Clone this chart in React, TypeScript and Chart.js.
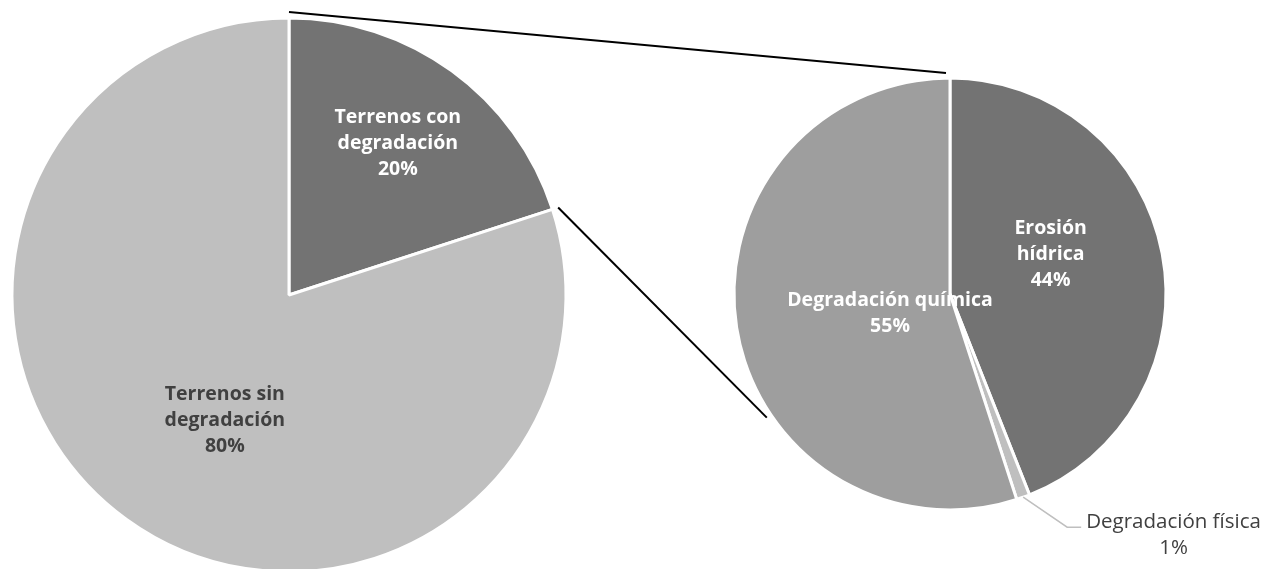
import React, { useEffect, useRef } from "react";
import { Chart, registerables } from "chart.js";

Chart.register(...registerables);

const mainLabels = ["Terrenos con degradación", "Terrenos sin degradación"];
const mainValues = [20, 80];
const mainColors = ["#737373", "#bfbfbf"];

const subLabels = ["Erosión hídrica", "Degradación física", "Degradación química"];
const subValues = [44, 1, 55];
const subColors = ["#737373", "#bfbfbf", "#9e9e9e"];

const FONT = "'Open Sans', 'Noto Sans', sans-serif";

function wrapLabel(label: string, maxWords: number): string[] {
  const words = label.split(" ");
  if (words.length <= 1) return [label];
  if (maxWords >= words.length) return [label];
  return [words.slice(0, maxWords).join(" "), words.slice(maxWords).join(" ")];
}

const labelPlugin = {
  id: "pieLabels",
  afterDatasetsDraw(chart: any, _args: any, opts: any) {
    const ctx = chart.ctx;
    const meta = chart.getDatasetMeta(0);
    const values = chart.data.datasets[0].data as number[];
    const total = values.reduce((a: number, b: number) => a + b, 0);
    const styles = opts.styles as any[];
    meta.data.forEach((arc: any, i: number) => {
      const st = styles[i];
      const pct = Math.round((values[i] / total) * 100) + "%";
      const label = chart.data.labels[i] as string;
      const mid = (arc.startAngle + arc.endAngle) / 2;
      const R = arc.outerRadius;
      ctx.save();
      if (st.outside) {
        const sx = arc.x + R * Math.cos(mid);
        const sy = arc.y + R * Math.sin(mid);
        const ex = sx + 44;
        const ey = sy + 30;
        const hx = ex + 14;
        ctx.strokeStyle = "#bfbfbf";
        ctx.lineWidth = 1.5;
        ctx.beginPath();
        ctx.moveTo(sx, sy);
        ctx.lineTo(ex, ey);
        ctx.lineTo(hx, ey);
        ctx.stroke();
        ctx.font = `20.5px ${FONT}`;
        ctx.fillStyle = "#404040";
        ctx.textAlign = "center";
        ctx.textBaseline = "middle";
        const w = ctx.measureText(label).width;
        const cx = hx + 5 + w / 2;
        ctx.fillText(label, cx, ey - 5);
        ctx.fillText(pct, cx, ey + 21);
      } else {
        const theta = mid + (st.da * Math.PI) / 180;
        const x = arc.x + st.r * R * Math.cos(theta);
        const y = arc.y + st.r * R * Math.sin(theta);
        const lines = [...wrapLabel(label, st.words), pct];
        ctx.font = `bold 19.5px ${FONT}`;
        ctx.fillStyle = st.color;
        ctx.textAlign = "center";
        ctx.textBaseline = "middle";
        const lh = 26;
        const y0 = y - ((lines.length - 1) * lh) / 2;
        lines.forEach((ln, k) => ctx.fillText(ln, x, y0 + k * lh));
      }
      ctx.restore();
    });
  },
};

export default function App() {
  const ref1 = useRef<HTMLCanvasElement>(null);
  const ref2 = useRef<HTMLCanvasElement>(null);

  useEffect(() => {
    const W = 1282;
    const H = 600;
    const c1 = new Chart(ref1.current!, {
      type: "pie",
      data: {
        labels: mainLabels,
        datasets: [
          {
            data: mainValues,
            backgroundColor: mainColors,
            borderColor: "#ffffff",
            borderWidth: 3,
            radius: 277,
          } as any,
        ],
      },
      options: {
        animation: false,
        responsive: false,
        layout: { padding: { left: 0, right: W - 578, top: 0, bottom: H - 590 } },
        plugins: {
          legend: { display: false },
          tooltip: { enabled: false },
          pieLabels: {
            styles: [
              { da: -0.4, r: 0.675, color: "#ffffff", words: 2 },
              { da: -9, r: 0.51, color: "#404040", words: 2 },
            ],
          },
        } as any,
      },
      plugins: [labelPlugin],
    });

    const connectPlugin = {
      id: "connect",
      afterDatasetsDraw(chart: any) {
        const a1 = c1.getDatasetMeta(0).data[0] as any;
        const a2 = chart.getDatasetMeta(0).data[0] as any;
        const R1 = a1.outerRadius;
        const R2 = a2.outerRadius;
        const ctx = chart.ctx;
        ctx.save();
        ctx.strokeStyle = "#000000";
        ctx.lineWidth = 2;
        const s = a1.startAngle;
        const e = a1.endAngle;
        ctx.beginPath();
        ctx.moveTo(a1.x + (R1 + 6) * Math.cos(s), a1.y + (R1 + 6) * Math.sin(s));
        ctx.lineTo(a2.x - 4 + (R2 + 5) * Math.cos(-Math.PI / 2), a2.y + (R2 + 5) * Math.sin(-Math.PI / 2));
        ctx.stroke();
        const t = ((236 - 90) * Math.PI) / 180;
        ctx.beginPath();
        ctx.moveTo(a1.x + (R1 + 6) * Math.cos(e), a1.y + (R1 + 6) * Math.sin(e));
        ctx.lineTo(a2.x + (R2 + 5) * Math.cos(t), a2.y + (R2 + 5) * Math.sin(t));
        ctx.stroke();
        ctx.restore();
      },
    };

    const c2 = new Chart(ref2.current!, {
      type: "pie",
      data: {
        labels: subLabels,
        datasets: [
          {
            data: subValues,
            backgroundColor: subColors,
            borderColor: "#ffffff",
            borderWidth: 3,
            radius: 216,
          } as any,
        ],
      },
      options: {
        animation: false,
        responsive: false,
        layout: { padding: { left: 618, right: 0, top: 0, bottom: H - 588 } },
        plugins: {
          legend: { display: false },
          tooltip: { enabled: false },
          pieLabels: {
            styles: [
              { da: -10.5, r: 0.5, color: "#ffffff", words: 1 },
              { outside: true },
              { da: -9, r: 0.292, color: "#ffffff", words: 5 },
            ],
          },
        } as any,
      },
      plugins: [labelPlugin, connectPlugin],
    });

    return () => {
      c2.destroy();
      c1.destroy();
    };
  }, []);

  return (
    <div
      style={{
        position: "fixed",
        left: 0,
        top: 0,
        width: 1282,
        height: 569,
        overflow: "hidden",
        background: "#ffffff",
      }}
    >
      <canvas ref={ref1} width={1282} height={600} style={{ position: "absolute", left: 0, top: 0, width: 1282, height: 600 }} />
      <canvas ref={ref2} width={1282} height={600} style={{ position: "absolute", left: 0, top: 0, width: 1282, height: 600 }} />
    </div>
  );
}
